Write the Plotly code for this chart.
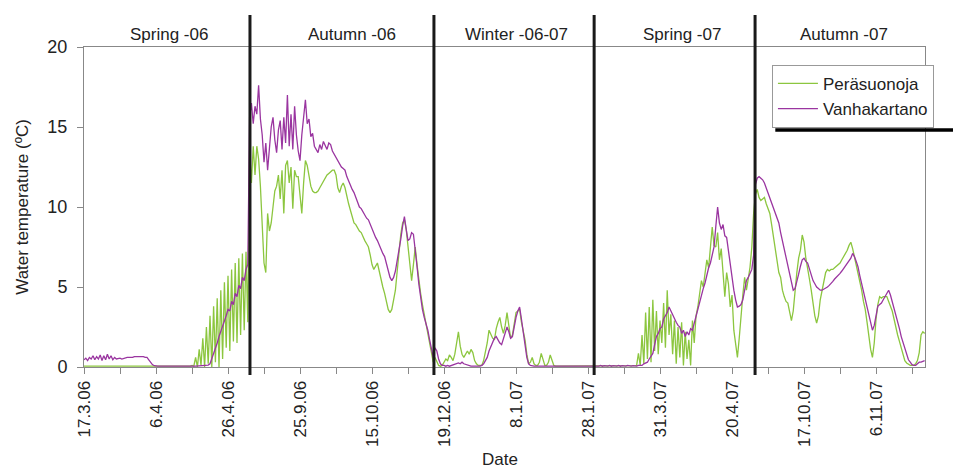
import plotly.graph_objects as go

# ---------------- data ----------------
# Day index on a concatenated date axis (0 = 17.3.06); each period's readings every 0.5 day
segment_start_days = [0, 46, 97, 142, 186.5]
step_days = 0.5

peras_spring06 = [
    0.05, 0.06, 0.05, 0.04, 0.05, 0.06, 0.05, 0.05, 0.06, 0.05,
    0.04, 0.05, 0.06, 0.05, 0.05, 0.04, 0.05, 0.06, 0.05, 0.05,
    0.06, 0.05, 0.04, 0.05, 0.05, 0.06, 0.05, 0.04, 0.05, 0.05,
    0.06, 0.05, 0.05, 0.04, 0.05, 0.06,
    0.05, 0.04, 0.03, 0.03, 0.04, 0.03, 0.03, 0.04, 0.03, 0.03,
    0.04, 0.03, 0.03, 0.04, 0.03, 0.03, 0.04, 0.05, 0.03, 0.04,
    0.05, 0.04, 0.06, 0.05, 0.1, 0.05,
    0.6, 0.0, 1.1, 0.1, 1.8, 0.0, 2.5, 0.2, 3.2, 0.0,
    3.8, 0.3, 4.3, 0.0, 4.8, 0.5, 5.3, 1.2, 5.7, 1.0,
    6.1, 1.6, 6.5, 1.5, 6.8, 2.0, 7.1, 2.3, 7.2, 2.8,
]
vanha_spring06 = [
    0.45, 0.55, 0.4, 0.6, 0.5, 0.7, 0.45, 0.65, 0.5, 0.75,
    0.4, 0.7, 0.45, 0.8, 0.5, 0.7, 0.45, 0.6, 0.5, 0.55,
    0.55, 0.5, 0.55, 0.55, 0.6, 0.6, 0.6, 0.6, 0.65, 0.65,
    0.65, 0.65, 0.65, 0.65, 0.6, 0.6,
    0.45, 0.3, 0.15, 0.08,
    0.05, 0.06, 0.05, 0.04, 0.05, 0.06, 0.05, 0.05, 0.04, 0.05,
    0.06, 0.05, 0.05, 0.04, 0.05, 0.05, 0.06, 0.05, 0.04, 0.05,
    0.06, 0.05, 0.05, 0.06, 0.05, 0.05, 0.06, 0.08, 0.1, 0.12,
    0.2, 0.5, 0.8, 1.2, 1.5, 1.9, 2.2, 2.5, 2.9, 3.2,
    3.6, 3.5, 4.1, 3.9, 4.6, 4.4, 5.1, 4.9, 5.6, 5.4,
    6.1, 6.4,
]

peras_autumn06 = [
    13.5, 11.5, 13.8, 12.0, 13.8, 13.0, 11.3, 9.0, 6.5, 5.9,
    9.6, 8.5, 9.0, 10.0, 11.0, 11.3, 12.0, 10.5, 12.3, 9.6,
    12.6, 12.9, 11.5, 12.5, 9.9, 12.3, 11.9, 11.9, 10.8, 9.6,
    11.5, 12.9, 12.6, 11.8, 11.3, 11.0, 10.9, 10.9, 11.0, 11.2,
    11.4, 11.6, 11.8, 12.0, 12.1, 12.2, 12.3, 12.3, 12.0, 11.2,
    10.9, 11.3, 11.5, 11.2, 10.6, 10.2, 9.8, 9.4, 9.0, 8.9,
    8.7, 8.5, 8.4, 8.1, 7.9, 7.7, 7.5, 7.0, 6.4, 6.1,
    6.3, 6.5, 6.0, 5.4, 5.0, 4.6, 4.0, 3.6, 3.4, 3.6,
    4.2, 4.8, 6.0, 7.2, 8.3, 9.0, 9.2, 8.6, 7.5, 6.2,
    5.4, 6.4, 7.5, 6.4, 5.4, 4.6, 3.9, 3.3, 2.75, 2.1,
    1.5, 0.8,
]
vanha_autumn06 = [
    15.6, 16.5, 15.2, 16.3, 15.8, 17.6, 15.5, 14.5, 12.8, 14.0,
    12.3, 13.5, 15.0, 15.6, 14.2, 13.4, 14.8, 15.4, 13.6, 15.6,
    14.0, 17.0, 13.8, 15.8, 13.6, 16.3, 14.5, 13.5, 12.9, 14.5,
    15.8, 16.7, 15.2, 15.5, 14.4, 14.6, 13.8, 13.6, 13.4, 13.9,
    13.6, 14.1, 13.8, 13.6, 14.0, 13.9, 13.5, 13.3, 13.1, 12.9,
    12.7, 12.5, 12.4, 12.3, 11.9, 11.6, 11.3, 11.1, 10.9, 10.6,
    10.3, 10.0, 9.9, 9.7, 9.5, 9.3, 9.2, 8.9, 8.6, 8.4,
    8.1, 7.9, 7.6, 7.4, 7.1, 6.9, 6.5, 6.0, 5.6, 5.4,
    5.6, 6.0, 6.6, 7.2, 8.0, 8.8, 9.4, 8.6, 7.9, 8.0,
    8.4, 8.3, 7.4, 6.3, 5.2, 4.2, 3.6, 3.1, 2.7, 2.3,
    1.7, 1.2,
]

peras_winter = [
    0.3, 0.6, 0.3, 0.1, 0.05, 0.1, 0.3, 0.5, 0.4, 0.75,
    0.6, 0.4, 0.8, 1.4, 2.2, 1.3, 0.8, 0.6, 0.8, 1.0,
    0.8, 1.1, 0.9, 0.4, 0.2, 0.1, 0.1, 0.1, 0.4, 0.9,
    1.5, 2.3, 2.0, 1.8, 1.7, 2.4, 2.8, 3.1, 2.5, 2.1,
    2.6, 3.4, 2.6, 1.8, 2.0, 2.8, 3.4, 3.5, 3.6, 2.8,
    2.2, 1.7, 0.8, 0.2, 0.3, 0.6, 0.2, 0.1, 0.1, 0.3,
    0.85, 0.4, 0.1, 0.1, 0.3, 0.75, 0.4, 0.1,
    0.05, 0.05, 0.05, 0.05, 0.05, 0.05, 0.05, 0.05, 0.05, 0.05,
    0.05, 0.05, 0.05, 0.05, 0.05, 0.05, 0.05, 0.05, 0.05, 0.05,
    0.05, 0.05,
]
vanha_winter = [
    0.6, 1.2, 1.0, 0.5, 0.2, 0.1, 0.1, 0.05, 0.1, 0.05,
    0.1, 0.1, 0.15, 0.2, 0.25, 0.2, 0.3, 0.2, 0.15, 0.1,
    0.1, 0.05, 0.05, 0.05, 0.05, 0.05, 0.05, 0.1, 0.2, 0.4,
    0.6, 1.0, 1.3, 1.6, 1.8, 1.9, 1.7, 1.5, 1.4, 1.8,
    2.2, 2.5, 2.2, 1.8, 1.9, 2.6, 3.1, 3.5, 3.75, 3.0,
    2.3, 1.4, 0.6, 0.2, 0.1,
    0.05, 0.05, 0.05, 0.05, 0.05, 0.05, 0.05, 0.05, 0.05, 0.05,
    0.05, 0.05, 0.05, 0.05, 0.05, 0.05, 0.05, 0.05, 0.05, 0.05,
    0.05, 0.05, 0.05, 0.05, 0.05, 0.05, 0.05, 0.05, 0.05, 0.05,
    0.05, 0.05, 0.05, 0.05, 0.05,
]

peras_spring07 = [
    0.05, 0.04, 0.05, 0.06, 0.05, 0.04, 0.05, 0.05, 0.06, 0.05,
    0.04, 0.05, 0.05, 0.06, 0.05, 0.04, 0.05, 0.05, 0.06, 0.05,
    0.05, 0.06, 0.08, 0.1,
    0.85, 0.1, 2.0, 0.2, 3.4, 0.5, 3.75, 0.3, 4.2, 1.0,
    3.5, 0.8, 2.9, 1.5, 4.0, 1.2, 4.8, 2.0, 3.3, 0.8,
    2.9, 0.2, 2.5, 0.6, 2.8, 0.1, 2.2, 0.5, 1.7, 0.1,
    2.9, 1.5, 3.2, 3.75, 4.5, 5.4, 5.0, 6.0, 6.7, 6.2,
    7.8, 8.75, 7.6, 7.5, 8.4, 6.7, 7.4, 6.0, 4.4, 5.9,
    5.2, 3.75, 4.5, 2.3, 1.5, 0.6, 1.8, 3.4, 4.5, 5.6,
    4.8, 5.5, 6.25, 7.5, 9.6,
]
vanha_spring07 = [
    0.05, 0.08, 0.05, 0.1, 0.05, 0.08, 0.05, 0.05, 0.1, 0.05,
    0.08, 0.05, 0.05, 0.1, 0.05, 0.08, 0.05, 0.05, 0.1, 0.05,
    0.05, 0.08, 0.05, 0.05, 0.1, 0.1, 0.1,
    0.2, 0.25, 0.3, 0.5, 0.7, 0.85, 1.4, 1.9, 2.1, 2.4,
    2.5, 3.0, 3.2, 3.4, 3.75, 3.5, 3.2, 3.0, 2.8, 2.6,
    2.5, 2.1, 2.3, 1.9, 2.2, 2.0, 2.4, 2.3, 2.75, 3.2,
    3.6, 4.0, 4.5, 4.9, 5.25, 5.8, 6.2, 6.5, 7.0, 7.5,
    8.8, 10.0, 9.0, 8.6, 8.9, 8.2, 8.1, 7.2, 6.5, 5.5,
    4.8, 4.2, 3.75, 3.8, 3.9, 4.2, 4.8, 5.4, 5.6, 5.9,
    6.1, 7.0,
]

peras_autumn07 = [
    10.8, 11.1, 10.6, 10.4, 10.5, 10.6, 10.2, 9.9, 9.6, 8.9,
    8.1, 7.6, 6.8, 5.9, 5.6, 4.8, 4.4, 4.1, 4.0, 3.4,
    2.9, 3.5, 4.8, 5.9, 6.8, 7.3, 8.25, 7.8, 6.8, 6.25,
    5.5, 4.8, 4.0, 3.2, 2.75, 3.2, 4.2, 4.8, 5.4, 5.9,
    6.1, 6.0, 6.1, 6.1, 6.2, 6.3, 6.4, 6.5, 6.7, 6.9,
    7.1, 7.3, 7.6, 7.8, 7.4, 6.9, 6.5, 6.0, 5.3, 4.8,
    4.1, 3.6, 2.8, 1.8, 1.1, 0.6, 1.5, 3.0, 3.9, 4.4,
    4.3, 4.4, 4.4, 4.4, 4.1, 3.8, 3.5, 3.0, 2.4, 2.0,
    1.6, 1.25, 0.8, 0.4, 0.25, 0.15, 0.1, 0.1, 0.1, 0.2,
    0.4, 0.9, 2.0, 2.2, 2.1,
]
vanha_autumn07 = [
    11.4, 11.8, 11.9, 11.8, 11.7, 11.5, 11.2, 10.9, 10.6, 10.3,
    10.0, 9.6, 9.3, 9.0, 8.4, 7.9, 7.4, 6.9, 6.3, 5.8,
    5.2, 4.8, 4.9, 5.3, 5.8, 6.3, 6.7, 6.8, 6.6, 6.5,
    6.1, 5.7, 5.4, 5.2, 5.0, 4.9, 4.8, 4.8, 4.85, 4.9,
    5.0, 5.1, 5.2, 5.35, 5.5, 5.6, 5.7, 5.85, 6.0, 6.15,
    6.3, 6.45, 6.6, 6.8, 7.1, 6.9, 6.6, 6.25, 5.7, 5.2,
    4.6, 4.1, 3.6, 3.2, 2.7, 2.3, 2.6, 3.3, 3.8, 3.9,
    4.0, 4.2, 4.4, 4.6, 4.8, 4.5, 4.1, 3.7, 3.2, 2.8,
    2.4, 1.9, 1.5, 1.1, 0.7, 0.45, 0.3, 0.15, 0.1, 0.1,
    0.2, 0.3, 0.3, 0.35, 0.4,
]

peras_segments = [peras_spring06, peras_autumn06, peras_winter, peras_spring07, peras_autumn07]
vanha_segments = [vanha_spring06, vanha_autumn06, vanha_winter, vanha_spring07, vanha_autumn07]

series_names = ["Peräsuonoja", "Vanhakartano"]

period_breaks = [46.1, 97.2, 141.7, 186.4]
period_labels = ["Spring -06", "Autumn -06", "Winter -06-07", "Spring -07", "Autumn -07"]
period_label_days = [23.6, 74.4, 120.0, 166.0, 211.0]

tick_days = [0, 20, 40, 60, 80, 100, 120, 140, 160, 180, 200, 220]
tick_labels = ["17.3.06", "6.4.06", "26.4.06", "25.9.06", "15.10.06", "19.12.06",
               "8.1.07", "28.1.07", "31.3.07", "20.4.07", "17.10.07", "6.11.07"]
x_range = [0, 233.6]
y_ticks = [0, 5, 10, 15, 20]


def build(segments):
    xs, ys = [], []
    for start, seg in zip(segment_start_days, segments):
        for i, v in enumerate(seg):
            xs.append(start + step_days * i)
            ys.append(v)
    return xs, ys


px_, py_ = build(peras_segments)
vx_, vy_ = build(vanha_segments)

FONT = "Liberation Sans, Arial, sans-serif"
GREEN = "#8cc63f"
PURPLE = "#9a35a0"
TXT = "#222222"

fig = go.Figure()
fig.add_trace(go.Scatter(x=px_, y=py_, mode="lines", name=series_names[0],
                         line=dict(color=GREEN, width=1.3)))
fig.add_trace(go.Scatter(x=vx_, y=vy_, mode="lines", name=series_names[1],
                         line=dict(color=PURPLE, width=1.3)))

for b in period_breaks:
    fig.add_shape(type="line", xref="x", yref="paper", x0=b, x1=b, y0=-0.025, y1=1.1,
                  line=dict(color="#1a1a1a", width=3), layer="above")

# shadow under the legend box
fig.add_shape(type="line", xref="paper", yref="paper", x0=0.822, x1=1.05, y0=0.741, y1=0.741,
              line=dict(color="#000000", width=3.5), layer="above")

annotations = []
for lab, d in zip(period_labels, period_label_days):
    annotations.append(dict(x=d, y=1.0375, xref="x", yref="paper", text=lab, showarrow=False,
                            font=dict(size=17, color=TXT), xanchor="center", yanchor="middle"))
annotations.append(dict(x=-0.074, y=0.5, xref="paper", yref="paper",
                        text="Water temperature (ºC)", textangle=-90, showarrow=False,
                        font=dict(size=17, color=TXT), xanchor="center", yanchor="middle"))
annotations.append(dict(x=0.495, y=-0.29, xref="paper", yref="paper", text="Date",
                        showarrow=False, font=dict(size=17, color=TXT),
                        xanchor="center", yanchor="middle"))

fig.update_layout(
    width=953, height=471,
    margin=dict(l=84, r=28, t=47, b=104),
    paper_bgcolor="white", plot_bgcolor="white",
    font=dict(family=FONT, size=17, color=TXT),
    showlegend=True,
    legend=dict(x=0.818, y=0.944, xanchor="left", yanchor="top",
                bgcolor="white", bordercolor="#999", borderwidth=1,
                font=dict(size=17, color=TXT), tracegroupgap=0, itemwidth=40),
    annotations=annotations,
    xaxis=dict(range=x_range, tickmode="array", tickvals=tick_days, ticktext=tick_labels,
               tickangle=-90, ticks="outside", ticklen=6, tickcolor="#888",
               showline=True, linecolor="#888", linewidth=1, mirror=True,
               showgrid=False, zeroline=False,
               minor=dict(dtick=10, tick0=0, ticks="outside", ticklen=6, tickcolor="#888"),
               tickfont=dict(size=17)),
    yaxis=dict(range=[0, 20], tickvals=y_ticks, ticks="outside", ticklen=6, tickcolor="#888",
               showline=True, linecolor="#888", linewidth=1, mirror=True,
               showgrid=False, zeroline=False, tickfont=dict(size=18),
               ticklabelstandoff=6),
)

fig.write_html("out.html")
